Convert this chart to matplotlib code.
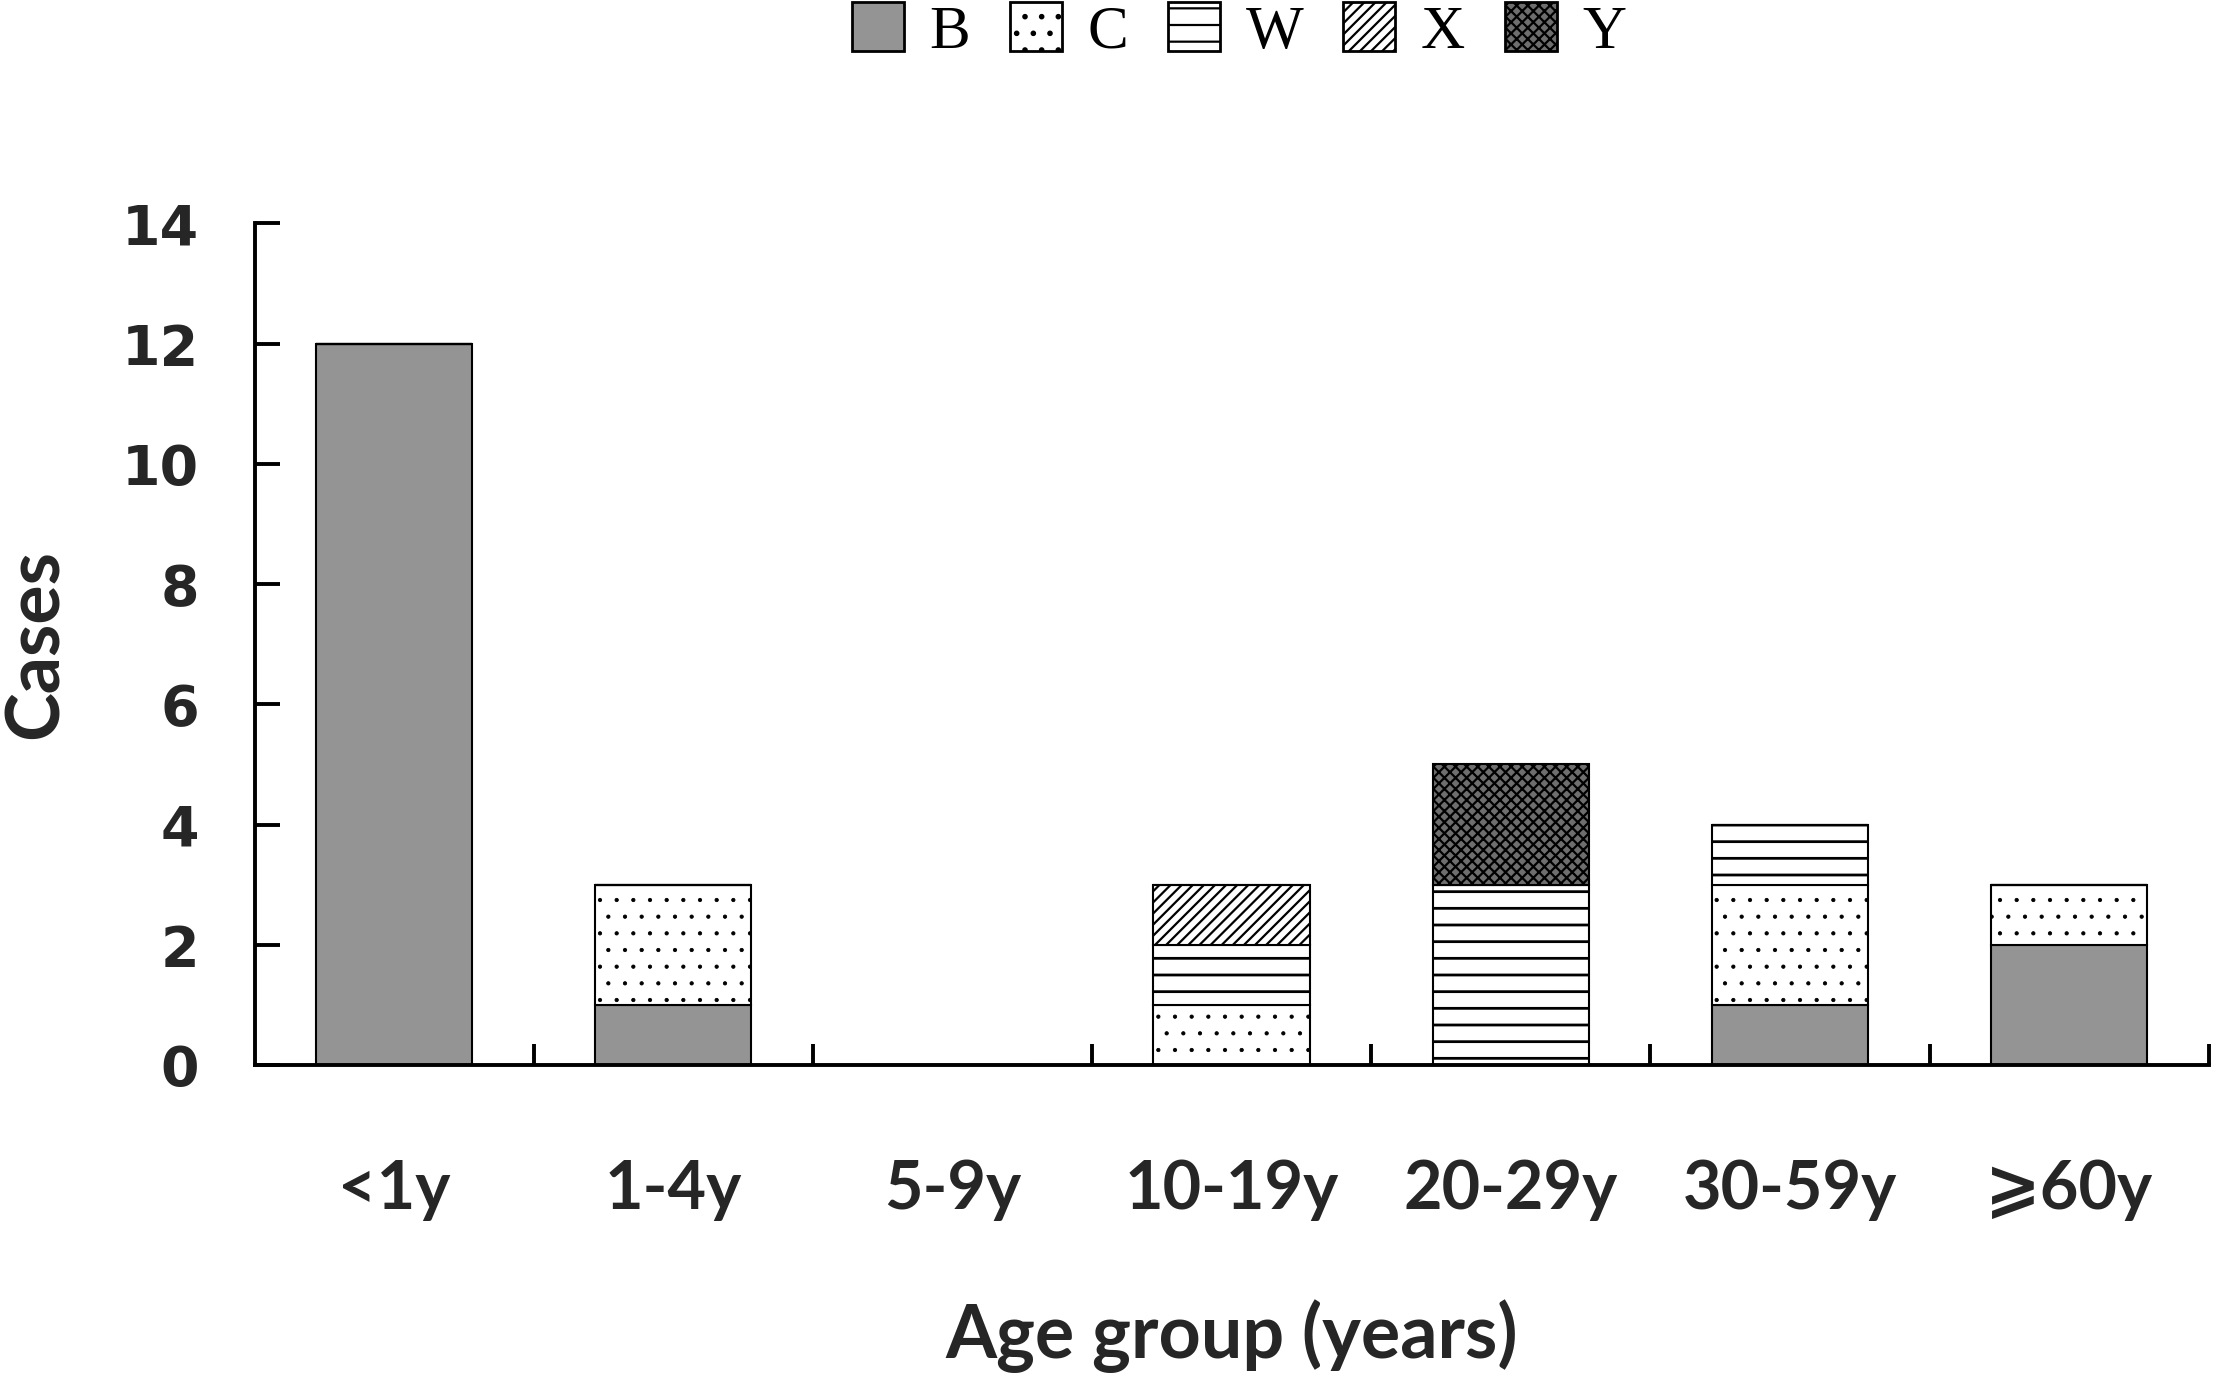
import numpy as np
import matplotlib
matplotlib.use('Agg')
import matplotlib.pyplot as plt
import matplotlib.patches as mpatches

# data
groups = ['<1y', '1-4y', '5-9y', '10-19y', '20-29y', '30-59y', '\u2a7e60y']
series = ['B', 'C', 'W', 'X', 'Y']
B = [12, 1, 0, 0, 0, 1, 2]
C = [0, 2, 0, 1, 0, 2, 1]
W = [0, 0, 0, 1, 3, 1, 0]
X = [0, 0, 0, 1, 0, 0, 0]
Y = [0, 0, 0, 0, 2, 0, 0]

# fill / hatch / hatch line width per series
styles = {
    'B': ('#949494', '', 1.0),
    'C': ('white', '.', 0.6),
    'W': ('white', '-', 2.0),
    'X': ('white', '///', 1.6),
    'Y': ('#6e6e6e', 'xxx', 1.6),
}

plt.rcParams['hatch.color'] = 'black'

fig = plt.figure(figsize=(22.17, 13.77), dpi=100)
ax = fig.add_axes([0.1148, 0.2266, 0.8815, 0.6112])

x = np.arange(len(groups))
bottom = np.zeros(len(groups))
handles = []
for name, vals in zip(series, [B, C, W, X, Y]):
    vals = np.array(vals, dtype=float)
    fc, hatch, hlw = styles[name]
    plt.rcParams['hatch.linewidth'] = hlw
    bars = ax.bar(x, vals, 0.56, bottom=bottom, facecolor=fc, hatch=hatch,
                  edgecolor='black', linewidth=1.5)
    h = mpatches.Patch(facecolor=fc, hatch=hatch, edgecolor='black',
                       linewidth=2.0, label=name)
    for p in list(bars) + [h]:
        if hasattr(p, 'set_hatch_linewidth'):
            p.set_hatch_linewidth(hlw)
    handles.append(h)
    bottom += vals

ax.set_xlim(-0.5, 6.5)
ax.set_ylim(0, 14)
ax.spines['top'].set_visible(False)
ax.spines['right'].set_visible(False)
ax.spines['left'].set_linewidth(2.8)
ax.spines['bottom'].set_linewidth(2.8)

ax.set_yticks(np.arange(0, 15, 2))
ax.tick_params(axis='y', direction='in', length=18, width=2.8, pad=40)
for lab in ax.get_yticklabels():
    lab.set_fontfamily('DejaVu Sans')
    lab.set_fontweight('bold')
    lab.set_fontsize(40)
    lab.set_color('#262626')

ax.set_xticks(x)
ax.set_xticklabels(groups, fontsize=48, fontweight='bold', color='#262626',
                   family=['Lato', 'DejaVu Sans'])
ax.tick_params(axis='x', which='major', length=0, pad=68)
ax.set_xticks(np.arange(0.5, 7, 1), minor=True)
ax.tick_params(axis='x', which='minor', direction='in', length=15, width=2.8)

ax.set_xlabel('Age group (years)', fontsize=53, family='Lato', fontweight='bold',
              color='#262626', labelpad=56)
ax.set_ylabel('Cases', fontsize=53, family='Lato', fontweight='bold',
              color='#262626')
ax.yaxis.set_label_coords(-0.094, 0.5)

leg = fig.legend(handles=handles, loc='center', bbox_to_anchor=(0.559, 0.977),
                 ncol=5, frameon=False, handlelength=0.85, handleheight=0.85,
                 handletextpad=0.42, columnspacing=0.65, borderpad=0.1,
                 prop={'family': 'Liberation Serif', 'size': 44})

fig.savefig('out.png', dpi=100)
